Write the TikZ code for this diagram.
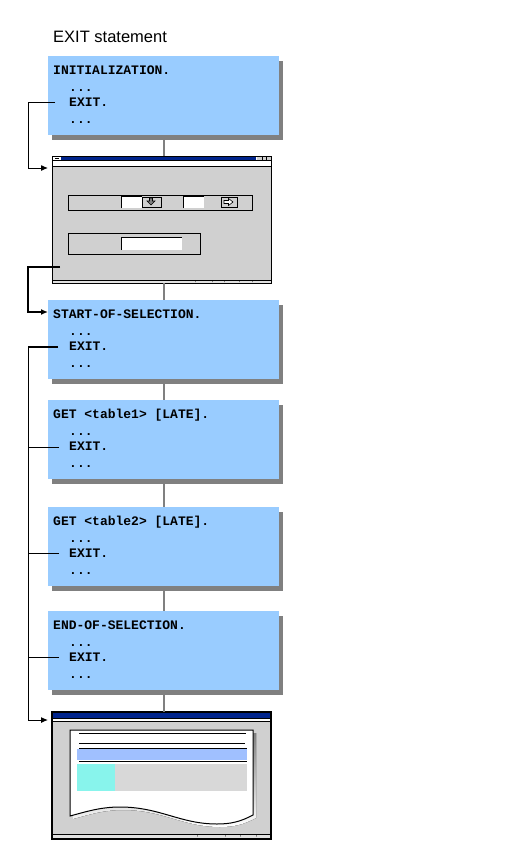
\documentclass[tikz,border=0pt]{standalone}
\usepackage{fontspec}
\setmainfont{Liberation Sans}
\setmonofont{Liberation Mono}
\usetikzlibrary{arrows.meta,shadows}
\definecolor{boxblue}{RGB}{153,204,255}
\definecolor{shade}{RGB}{128,128,128}
\definecolor{wingray}{RGB}{208,208,208}
\definecolor{statgray}{RGB}{224,224,224}
\definecolor{titleblue}{RGB}{0,36,140}
\definecolor{bandblue}{RGB}{160,192,255}
\definecolor{cyanfill}{RGB}{136,244,236}
\definecolor{lightgray2}{RGB}{216,216,216}
\begin{document}
\begin{tikzpicture}[x=1pt,y=-1pt,
  codebox/.style={fill=boxblue, draw=none, minimum width=231pt, minimum height=79pt, inner sep=0pt, outer sep=0pt,
    drop shadow={shadow xshift=4pt, shadow yshift=-5pt, fill=shade, opacity=1}},
  code/.style={font=\ttfamily\bfseries\fontsize{13}{13}\selectfont, anchor=base west, inner sep=0pt},
  winbox/.style={fill=wingray, draw=black, line width=1pt, minimum width=219pt, minimum height=127pt, inner sep=0pt, outer sep=0pt},
  conn/.style={draw=shade, line width=2pt},
  tip/.style={-{Latex[length=7pt,width=6pt]}},
  field/.style={fill=white, draw=none},
  btn/.style={fill=wingray, draw=black, line width=0.8pt}
]
\useasboundingbox (0,0) rectangle (526,862);
\coordinate (cx) at (164,0);
\coordinate (rail) at (28,0);

% title
\node[font=\fontsize{16.5}{16.5}\selectfont, anchor=base west, inner sep=0pt] (title) at (53,42) {EXIT statement};

% code boxes
\node[codebox] (b1) at (163.5,95.5) {};
\node[code] (b1l1) at (53,74) {INITIALIZATION.};
\node[code] (b1l2) at (69,91) {...};
\node[code] (b1l3) at (69,106) {EXIT.};
\node[code] (b1l4) at (69,123) {...};

\node[codebox] (b2) at (163.5,339.5) {};
\node[code] (b2l1) at (53,318) {START-OF-SELECTION.};
\node[code] (b2l2) at (69,335) {...};
\node[code] (b2l3) at (69,350) {EXIT.};
\node[code] (b2l4) at (69,367) {...};

\node[codebox] (b3) at (163.5,439.5) {};
\node[code] (b3l1) at (53,418) {GET <table1> [LATE].};
\node[code] (b3l2) at (69,435) {...};
\node[code] (b3l3) at (69,450) {EXIT.};
\node[code] (b3l4) at (69,467) {...};

\node[codebox] (b4) at (163.5,546.5) {};
\node[code] (b4l1) at (53,525) {GET <table2> [LATE].};
\node[code] (b4l2) at (69,542) {...};
\node[code] (b4l3) at (69,557) {EXIT.};
\node[code] (b4l4) at (69,574) {...};

\node[codebox] (b5) at (163.5,650.5) {};
\node[code] (b5l1) at (53,629) {END-OF-SELECTION.};
\node[code] (b5l2) at (69,646) {...};
\node[code] (b5l3) at (69,661) {EXIT.};
\node[code] (b5l4) at (69,678) {...};

% window 1 (selection screen)
\node[winbox] (w1) at (161.5,219.5) {};
\draw[line width=1.5pt] (52.5,166) -- (52.5,283);
\fill[white] (52.5,156.5) rectangle (270.5,166);
\fill[titleblue] (61,157) rectangle (256,160);
\draw[line width=0.8pt] (55,158) -- (59,158);
\fill[wingray] (257,157) rectangle (270.5,160);
\draw[line width=0.6pt] (262,157) -- (262,160) (266,157) -- (266,160);
\draw[line width=0.8pt] (52,160.7) -- (271,160.7);
\draw[line width=0.8pt] (52,166) -- (271,166);
\fill[statgray] (53,280) rectangle (270.5,282.5);
\draw[line width=0.8pt] (52,280) -- (271,280);
\foreach \t in {195,212,224,239,252} \fill[shade] (\t,281) rectangle (\t+0.8,282.5);
% group box 1
\draw[line width=0.8pt] (68,195) rectangle (252,210);
\fill[field] (121,196) rectangle (142,208);
\draw[line width=0.8pt] (121,208) -- (121,196) -- (142,196);
\draw[btn] (142,197) rectangle (161,207);
\filldraw[fill=shade, draw=black, line width=0.6pt] (149.5,198) -- (152.5,198) -- (152.5,201) -- (155,201) -- (151,205) -- (147,201) -- (149.5,201) -- cycle;
\fill[field] (183,196) rectangle (204,208);
\draw[line width=0.8pt] (183,208) -- (183,196) -- (204,196);
\draw[btn] (221,197) rectangle (237,207);
\filldraw[fill=white, draw=black, line width=0.6pt] (224,200.5) -- (228.5,200.5) -- (228.5,198.5) -- (233,202) -- (228.5,205.5) -- (228.5,203.5) -- (224,203.5) -- cycle;
% group box 2
\draw[line width=0.8pt] (68,233) rectangle (200,254);
\fill[field] (121,237) rectangle (182,250);
\draw[line width=0.8pt] (121,250) -- (121,237) -- (182,237);

% window 2 (list)
\node[winbox, line width=1.5pt] (w2) at (161.5,775.5) {};
\fill[titleblue] (53,713) rectangle (270,717.5);
\fill[white] (53,718) rectangle (270,721);
\draw[line width=0.8pt] (52,718) -- (271,718);
\draw[line width=0.8pt] (52,721) -- (271,721);
\fill[statgray] (53,834.5) rectangle (270,838);
\draw[line width=0.8pt] (52,834) -- (271,834);
\foreach \t in {197,225,240,256} \fill[shade] (\t,835.5) rectangle (\t+0.8,837.5);
% paper
\def\paperpath{(70,730) -- (253,730) -- (253,815) .. controls (240,822) and (230,824) .. (217,824) .. controls (180,824) and (160,807) .. (120,807) .. controls (100,807) and (85,812) .. (70,816) -- cycle}
\fill[shade, shift={(3,3)}] \paperpath;
\filldraw[fill=white, draw=black, line width=1pt] \paperpath;
\draw[line width=0.9pt] (79,733) -- (246,733);
\draw[line width=0.9pt] (79,743) -- (245,743);
\fill[bandblue] (77,749) rectangle (247,760);
\draw[line width=0.9pt] (79,748.5) -- (247,748.5);
\draw[line width=0.9pt] (79,761.5) -- (247,761.5);
\fill[cyanfill] (77,764) rectangle (115,791);
\fill[lightgray2] (115,764) rectangle (247,791);

% gray flow connectors
\draw[conn] (b1.south -| cx) -- (w1.north -| cx);
\draw[conn] (w1.south -| cx) -- (b2.north -| cx);
\draw[conn] (b2.south -| cx) -- (b3.north -| cx);
\draw[conn] (b3.south -| cx) -- (b4.north -| cx);
\draw[conn] (b4.south -| cx) -- (b5.north -| cx);
\draw[conn] (b5.south -| cx) -- (w2.north -| cx);

% EXIT jumps
\coordinate (x1) at (55,102);
\coordinate (a1) at (48,168);
\draw[tip, line width=1pt] (x1) -- (x1 -| rail) |- (a1);

\coordinate (x2) at (60,267);
\coordinate (a2) at (48,312);
\draw[line width=2pt] (x2) -- (x2 -| rail);
\draw[tip, line width=1.3pt] ([yshift=1pt]x2 -| rail) |- (a2);

\coordinate (x3) at (58,347);
\coordinate (a3) at (48,720);
\draw[line width=2pt] (x3) -- (x3 -| rail);
\draw[tip, line width=1pt] ([yshift=1pt]x3 -| rail) |- (a3);

\coordinate (x4) at (59,447);
\coordinate (x5) at (59,553);
\coordinate (x6) at (59,657);
\draw[line width=1pt] (x4) -- (x4 -| rail);
\draw[line width=1pt] (x5) -- (x5 -| rail);
\draw[line width=1pt] (x6) -- (x6 -| rail);
\end{tikzpicture}
\end{document}
